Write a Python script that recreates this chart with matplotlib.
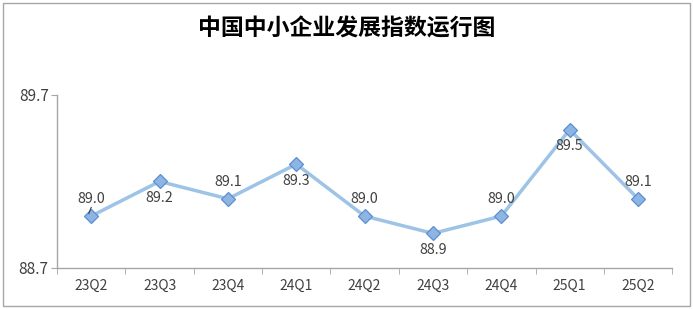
import matplotlib
matplotlib.use("Agg")
import matplotlib.pyplot as plt
from matplotlib.patches import Rectangle

plt.rcParams['font.family'] = ['Noto Sans CJK SC', 'DejaVu Sans']

quarters = ["23Q2", "23Q3", "23Q4", "24Q1", "24Q2", "24Q3", "24Q4", "25Q1", "25Q2"]
index_values = [89.0, 89.2, 89.1, 89.3, 89.0, 88.9, 89.0, 89.5, 89.1]
label_above = [True, False, True, False, True, False, True, False, True]
title = "中国中小企业发展指数运行图"

fig = plt.figure(figsize=(6.93, 3.09), dpi=100)
fig.patches.append(Rectangle((0.004, 0.01), 0.992, 0.98, transform=fig.transFigure,
                             fill=False, edgecolor="#a6a6a6", linewidth=1.0))
ax = fig.add_axes([0.0823, 0.1327, 0.8877, 0.560])

x = list(range(len(quarters)))
ax.plot(x, index_values, color="#9dc3e6", linewidth=2.5, marker="D", markersize=7,
        markerfacecolor="#8db4e2", markeredgecolor="#5b8fd0", markeredgewidth=0.9, zorder=3)

for i, (v, up) in enumerate(zip(index_values, label_above)):
    dy = 12 if up else -12
    ax.annotate(f"{v:.1f}", (i, v), xytext=(0, dy), textcoords="offset points",
                ha="center", va="center", fontsize=10.3, color="#404040", zorder=4)

# small leader line for the first label
ax.plot([-0.035, 0.0], [index_values[0] + 0.015, index_values[0] + 0.05],
        color="#404040", linewidth=0.8, zorder=4)

ax.set_xlim(-0.5, len(quarters) - 0.5)
ax.set_ylim(88.7, 89.7)
ax.set_yticks([88.7, 89.7])
ax.set_yticklabels(["88.7", "89.7"], fontsize=11, color="#404040")
ax.set_xticks(x)
ax.set_xticklabels(quarters, fontsize=10, color="#404040")
ax.set_xticks([i - 0.5 for i in range(len(quarters) + 1)], minor=True)
ax.tick_params(axis="x", which="major", length=0, pad=8)
ax.tick_params(axis="x", which="minor", length=4, color="#a6a6a6", direction="out")
ax.tick_params(axis="y", length=4, color="#a6a6a6", direction="out", pad=2)

for s in ["top", "right"]:
    ax.spines[s].set_visible(False)
for s in ["left", "bottom"]:
    ax.spines[s].set_color("#a6a6a6")
    ax.spines[s].set_linewidth(1.0)

fig.text(0.5, 0.905, title, ha="center", va="center", fontsize=16.5, fontweight="bold", color="#000000")

fig.savefig("out.png", dpi=100)
